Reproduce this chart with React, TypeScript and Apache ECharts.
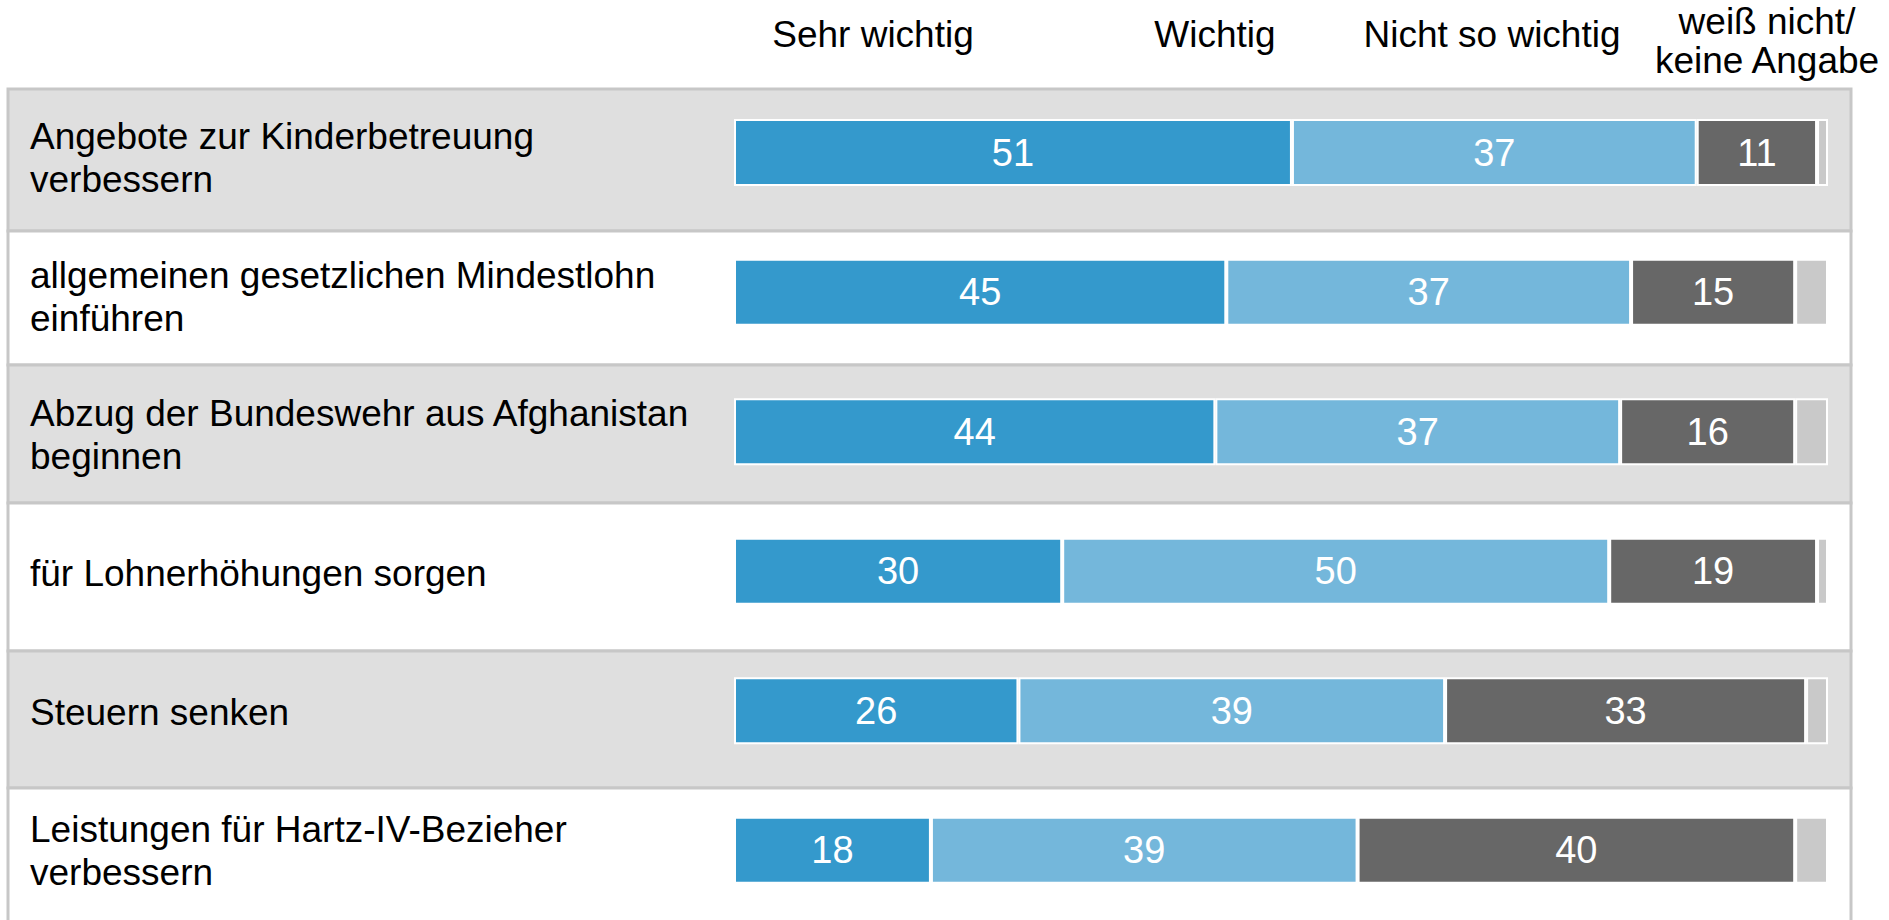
import React, { useEffect, useRef } from "react";
import * as echarts from "echarts";

const categories = [
  "Angebote zur Kinderbetreuung\nverbessern",
  "allgemeinen gesetzlichen Mindestlohn\neinführen",
  "Abzug der Bundeswehr aus Afghanistan\nbeginnen",
  "für Lohnerhöhungen sorgen",
  "Steuern senken",
  "Leistungen für Hartz-IV-Bezieher\nverbessern",
];
const seriesNames = ["Sehr wichtig", "Wichtig", "Nicht so wichtig", "weiß nicht/\nkeine Angabe"];
const sehrWichtig = [51, 45, 44, 30, 26, 18];
const wichtig = [37, 37, 37, 50, 39, 39];
const nichtSoWichtig = [11, 15, 16, 19, 33, 40];
const weissNicht = [1, 3, 3, 1, 2, 3];

const colors = ["#3499cc", "#74b7db", "#676767", "#c9c9c9"];
const FONT = "'Liberation Sans', Arial, sans-serif";

// layout (pixel) constants
const ROW_EDGES = [89, 231, 365, 503, 651, 788, 930];
const HEADER_X = [873, 1215, 1492, 1767];
const HEADER_Y = [34, 34, 34, 41];

export default function App() {
  const ref = useRef<HTMLDivElement>(null);
  useEffect(() => {
    if (!ref.current) return;
    const chart = echarts.init(ref.current, null, { renderer: "svg" });
    const rowH = 139.5;
    const barStep = 139.7;
    const barTop = 152.7 - barStep / 2;
    const values = [sehrWichtig, wichtig, nichtSoWichtig, weissNicht];

    const bands: any[] = [];
    for (let i = 0; i < 6; i++) {
      bands.push({
        type: "rect",
        z: -10,
        shape: { x: 8, y: ROW_EDGES[i], width: 1843, height: ROW_EDGES[i + 1] - ROW_EDGES[i] },
        style: { fill: i % 2 === 0 ? "#dfdfdf" : "#ffffff", stroke: "#c7c7c7", lineWidth: 3 },
      });
    }

    chart.setOption({
      animation: false,
      textStyle: { fontFamily: FONT },
      grid: [
        { left: 10, top: 89, width: 1840, height: rowH * 6 },
        { left: 734, top: barTop, width: 1094, height: barStep * 6 },
      ],
      xAxis: [
        { type: "value", gridIndex: 0, min: 0, max: 100, show: false },
        { type: "value", gridIndex: 1, min: 0, max: 100, show: false },
      ],
      yAxis: [
        {
          type: "category",
          gridIndex: 0,
          inverse: true,
          z: 5,
          data: categories,
          axisLine: { show: false },
          axisTick: { show: false },
          splitLine: { show: false },
          splitArea: { show: false },
          axisLabel: {
            inside: true,
            margin: 20,
            align: "left",
            fontSize: 37,
            lineHeight: 43,
            padding: [12, 0, 0, 0],
            color: "#000",
            fontFamily: FONT,
          },
        },
        {
          type: "category",
          gridIndex: 1,
          inverse: true,
          data: categories,
          show: false,
        },
      ],
      series: values.map((v, i) => ({
        name: seriesNames[i],
        type: "bar",
        stack: "total",
        xAxisIndex: 1,
        yAxisIndex: 1,
        barWidth: 67,
        data: v,
        itemStyle: { color: colors[i], borderColor: "#ffffff", borderWidth: 2 },
        label: {
          show: i < 3,
          position: "inside",
          color: "#ffffff",
          fontSize: 38,
          fontFamily: FONT,
        },
      })),
      graphic: [
        ...bands,
        ...seriesNames.map((n, i) => ({
          type: "text",
          z: 100,
          x: HEADER_X[i],
          y: HEADER_Y[i],
          style: {
            text: n,
            fontSize: 37,
            lineHeight: 39,
            fontFamily: FONT,
            fill: "#000",
            align: "center",
            verticalAlign: "middle",
          },
        })),
      ],
    });
    return () => chart.dispose();
  }, []);
  return (
    <div
      ref={ref}
      style={{ position: "fixed", left: 0, top: 0, width: 1889, height: 920, background: "#fff" }}
    />
  );
}
